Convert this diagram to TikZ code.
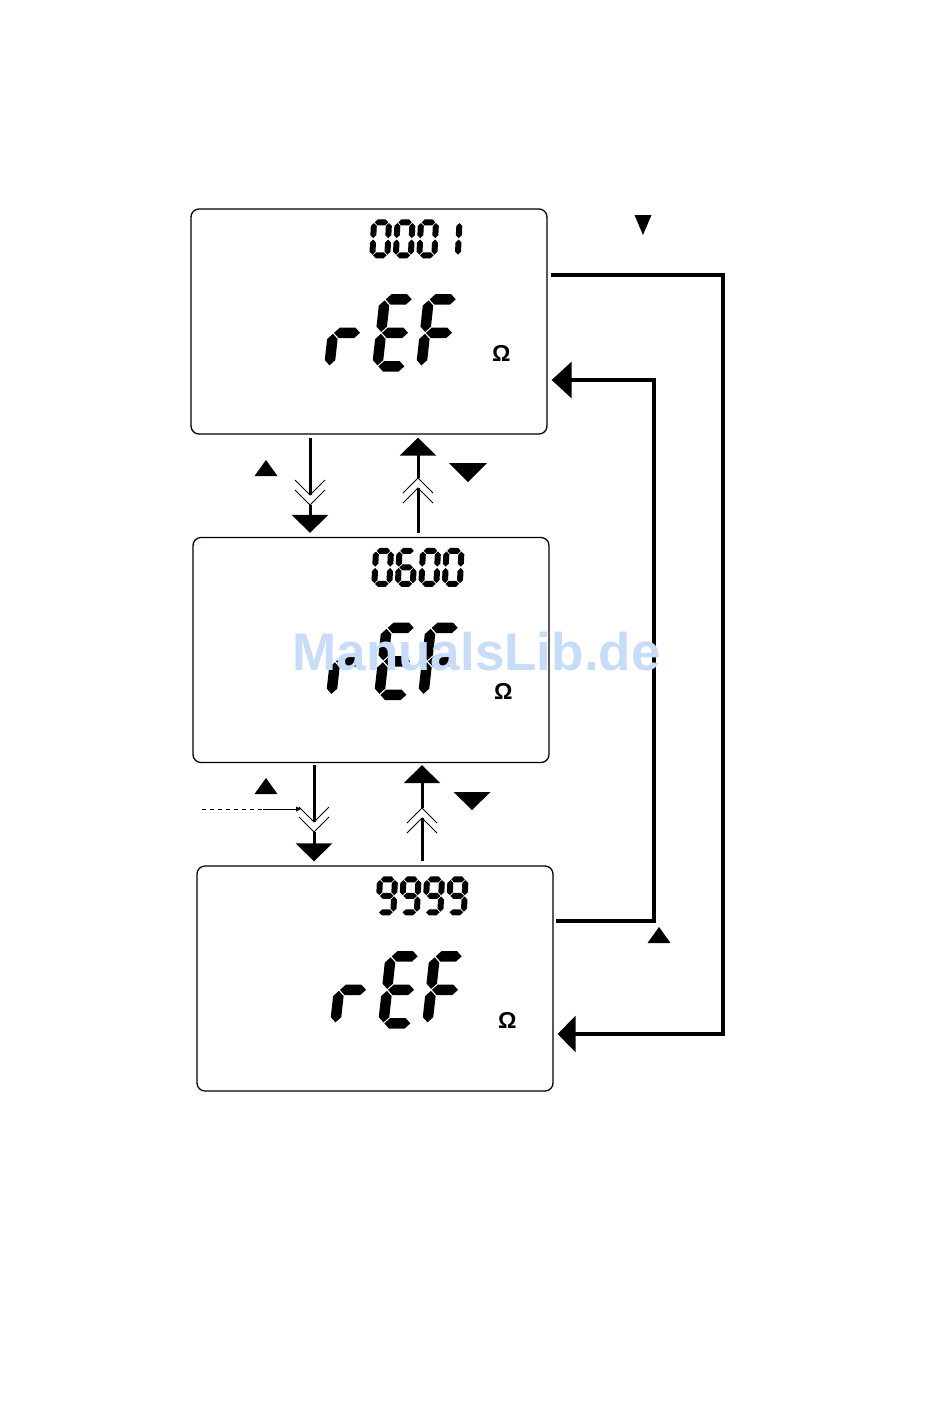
\documentclass[tikz,border=0pt]{standalone}
\usepackage{fontspec}
\setmainfont{Liberation Sans}
\usetikzlibrary{arrows.meta}
\definecolor{wmblue}{RGB}{198,220,248}

% 7-segment helpers (local coords: y grows downward, origin = bottom-left centerline)
\newcommand{\hseg}[1]{\fill (\sg,#1) -- (\sg+\st/2,#1-\st/2) -- (\sw-\sg-\st/2,#1-\st/2) -- (\sw-\sg,#1) -- (\sw-\sg-\st/2,#1+\st/2) -- (\sg+\st/2,#1+\st/2) -- cycle;}
\newcommand{\vseg}[3]{\fill (#1,#2-\sg) -- (#1+\st/2,#2-\sg-\st/2) -- (#1+\st/2,#3+\sg+\st/2) -- (#1,#3+\sg) -- (#1-\st/2,#3+\sg+\st/2) -- (#1-\st/2,#2-\sg-\st/2) -- cycle;}
\def\sega{\hseg{-2*\sh}}
\def\segg{\hseg{-\sh}}
\def\segd{\hseg{0}}
\def\segf{\vseg{0}{-\sh}{-2*\sh}}
\def\sege{\vseg{0}{0}{-\sh}}
\def\segb{\vseg{\sw}{-\sh}{-2*\sh}}
\def\segc{\vseg{\sw}{0}{-\sh}}
\newcommand{\lcddigit}[3]{%
  \begin{scope}[shift={(#1,#2)}, xslant=\sk]
    \foreach \s in {#3} {\csname seg\s\endcsname}
  \end{scope}}
\newcommand{\lcdcontent}[6]{%
  \begin{scope}[shift={(#1.north west)}]
    \def\sw{15}\def\sh{16.5}\def\st{6}\def\sg{0.7}\def\sk{0.05}
    \lcddigit{182}{47}{#2}
    \lcddigit{205.5}{47}{#3}
    \lcddigit{229}{47}{#4}
    \lcddigit{252.5}{47}{#5}
    \def\sw{28}\def\sh{33.5}\def\st{10.5}\def\sg{1}\def\sk{0.11}
    \lcddigit{139}{158}{e,g}
    \lcddigit{187}{158}{a,d,e,f,g}
    \lcddigit{231}{158}{a,e,f,g}
    \node[omega] (#1om) at (311,#6) {Ω};
  \end{scope}}

\tikzset{
  lcd/.style={draw, line width=1.3pt, rounded corners=8pt, minimum width=356pt, minimum height=225pt, inner sep=0pt},
  flow/.style={line width=3pt},
  ring/.style={line width=3.5pt},
  bighead/.style={-{Triangle[length=18pt,width=36pt]}},
  brk/.style={line width=0.9pt},
  omega/.style={font=\bfseries\fontsize{23}{23}\selectfont, inner sep=0pt},
  wm/.style={font=\bfseries\fontsize{53}{53}\selectfont, text=wmblue, inner sep=0pt, anchor=base},
}

\begin{document}
\begin{tikzpicture}[x=1pt,y=-1pt]
\useasboundingbox (0,0) rectangle (950,1409);

% displays
\node[lcd] (b1) at (369,321.5) {};
\node[lcd] (b2) at (371,650) {};
\node[lcd] (b3) at (375,978.5) {};
\lcdcontent{b1}{a,b,c,d,e,f}{a,b,c,d,e,f}{a,b,c,d,e,f}{b,c}{145}
\lcdcontent{b2}{a,b,c,d,e,f}{a,c,d,e,f,g}{a,b,c,d,e,f}{a,b,c,d,e,f}{155}
\lcdcontent{b3}{a,b,c,d,f,g}{a,b,c,d,f,g}{a,b,c,d,f,g}{a,b,c,d,f,g}{155}

% break points
\coordinate (d1a) at (310,495); \coordinate (d1b) at (310,505);
\coordinate (u1a) at (418,478); \coordinate (u1b) at (418,488);
\coordinate (d2a) at (314,822); \coordinate (d2b) at (314,832);
\coordinate (u2a) at (422,808); \coordinate (u2b) at (422,818);

% b1 -> b2 (down) and b2 -> b1 (up)
\draw[flow] ([shift={(-59,3)}]b1.south) -- (d1a);
\draw[flow,bighead] (d1b) -- ([shift={(-61,-4)}]b2.north);
\draw[brk] (295,480) -- (d1a) -- (325,480);
\draw[brk] (295,490) -- (d1b) -- (325,490);
\draw[flow] ([shift={(47,-4)}]b2.north) -- (u1b);
\draw[flow,bighead] (u1a) -- ([shift={(49,3)}]b1.south);
\draw[brk] (403,493) -- (u1a) -- (433,493);
\draw[brk] (403,503) -- (u1b) -- (433,503);

% b2 -> b3 (down) and b3 -> b2 (up)
\draw[flow] ([shift={(-57,2)}]b2.south) -- (d2a);
\draw[flow,bighead] (d2b) -- ([shift={(-61,-4)}]b3.north);
\draw[brk] (299,807) -- (d2a) -- (329,807);
\draw[brk] (299,817) -- (d2b) -- (329,817);
\draw[flow] ([shift={(47,-4)}]b3.north) -- (u2b);
\draw[flow,bighead] (u2a) -- ([shift={(51,2)}]b2.south);
\draw[brk] (407,823) -- (u2a) -- (437,823);
\draw[brk] (407,833) -- (u2b) -- (437,833);

% dashed pointer
\coordinate (dl0) at (202,809); \coordinate (dl1) at (263,809); \coordinate (dl2) at (301,809);
\draw[line width=0.8pt, dash pattern=on 4pt off 4pt] (dl0) -- (dl1);
\draw[line width=0.8pt, -{Triangle[length=5pt,width=5pt]}] (dl1) -- (dl2);

% wrap-around loops
\coordinate (r1) at (723,650);
\coordinate (r2) at (654,650);
\draw[ring,bighead] ([shift={(3,-46.5)}]b1.east) -| (r1) |- ([shift={(4,55.5)}]b3.east);
\draw[ring,-{Triangle[length=20pt,width=36pt]}] ([shift={(2,-57.5)}]b3.east) -| (r2) |- ([shift={(4,58.5)}]b1.east);

% key triangles
\fill (254.5,476) -- (277.5,476) -- (266,460) -- cycle;
\fill (449,463) -- (487,463) -- (468,482) -- cycle;
\fill (254.5,794) -- (277.5,794) -- (266,778) -- cycle;
\fill (453.5,792) -- (490.5,792) -- (472,810) -- cycle;
\fill (634.5,215) -- (651.5,215) -- (643,235) -- cycle;
\fill (647.5,943) -- (670.5,943) -- (659,927) -- cycle;

% watermark
\node[wm] (wm) at (476.5,670) {ManualsLib.de};
\end{tikzpicture}
\end{document}
